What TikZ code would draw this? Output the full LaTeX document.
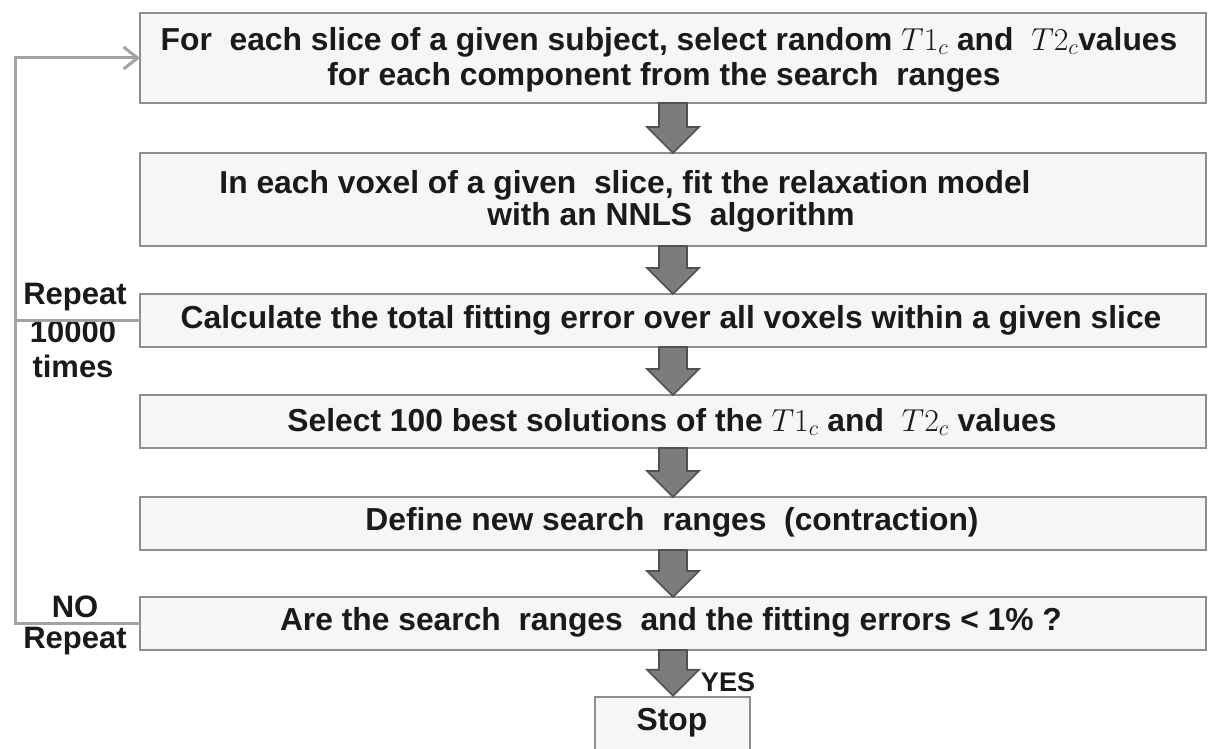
\documentclass[tikz,border=0pt]{standalone}
\usepackage{fix-cm}
\usepackage{fontspec}
\setmainfont{Liberation Sans}
\usetikzlibrary{arrows.meta,calc}
\definecolor{boxline}{HTML}{8E8E8E}
\definecolor{boxfill}{HTML}{F6F6F6}
\definecolor{loopgray}{HTML}{A3A3A3}
\definecolor{arrfill}{HTML}{7C7C7C}
\definecolor{arrline}{HTML}{505050}
\definecolor{txt}{HTML}{1A1A1A}
\tikzset{
  stepbox/.style={draw=boxline, fill=boxfill, line width=2.6pt, minimum width=1066pt, inner sep=0pt, outer sep=0pt},
  txtnode/.style={inner sep=0pt, text=txt, font=\fontsize{31.8}{36}\selectfont\bfseries},
  sidelabel/.style={inner sep=0pt, text=txt, font=\fontsize{31}{36}\selectfont\bfseries},
  loopline/.style={draw=loopgray, line width=3pt},
  blockarr/.style={fill=arrfill, draw=arrline, line width=1.6pt, line join=miter},
}
\newcommand\blockarrow[2]{%
  \path[blockarr] let \p1=(#1.south), \p2=(#2.north) in
    (\x1-14pt,\y1) -- (\x1+14pt,\y1) -- (\x1+14pt,\y2+26pt) -- (\x1+26pt,\y2+26pt)
    -- (\x1,\y2) -- (\x1-26pt,\y2+26pt) -- (\x1-14pt,\y2+26pt) -- cycle;}
\begin{document}
\begin{tikzpicture}[x=1pt,y=-1pt]
\useasboundingbox[fill=white] (0,0) rectangle (1212,749);
% boxes
\node[stepbox, minimum height=90pt] (b1) at (673,58) {};
\node[stepbox, minimum height=93pt] (b2) at (673,199.5) {};
\node[stepbox, minimum height=53pt] (b3) at (673,320.5) {};
\node[stepbox, minimum height=53pt] (b4) at (673,421.5) {};
\node[stepbox, minimum height=53pt] (b5) at (673,523.5) {};
\node[stepbox, minimum height=53pt] (b6) at (673,623.5) {};
\node[draw=boxline, fill=boxfill, line width=2.6pt, minimum width=155pt, minimum height=64pt, inner sep=0pt] (stop) at (672.5,729) {};
% texts
\node[txtnode] (t1a) at (669,42) {For\ \ each slice of a given\ subject, select random $T1_c$ and\ \ $T2_c$values};
\node[txtnode] (t1b) at (664,77) {for each component from the search\ \ ranges};
\node[txtnode] (t2a) at (625,185) {In each voxel of a given\ \ slice, fit the relaxation model};
\node[txtnode] (t2b) at (671,217) {with an NNLS\ \ algorithm};
\node[txtnode] (t3) at (671,320) {Calculate the total fitting error over all voxels within a given slice};
\node[txtnode] (t4) at (672,422) {Select 100 best solutions\ of the $T1_c$ and\ \ $T2_c$ values};
\node[txtnode] (t5) at (672,522) {Define new search\ \ ranges\ \ (contraction)};
\node[txtnode] (t6) at (671,622) {Are the search\ \ ranges\ \ and the fitting errors < 1\% ?};
\node[txtnode] (tstop) at (672,723) {Stop};
\node[sidelabel, font=\fontsize{27}{30}\selectfont\bfseries] (yes) at (728,682) {YES};
\node[sidelabel] (rep1) at (75,297) {Repeat};
\node[sidelabel] (rep2) at (73,332) {10000};
\node[sidelabel] (rep3) at (73,366) {times};
\node[sidelabel] (no) at (75,607) {NO};
\node[sidelabel] (rep4) at (75,641) {Repeat};
% loop
\coordinate (ltop) at (15,58);
\draw[loopline, -{Straight Barb[length=14pt,width=22pt]}] (b6.west) -| (ltop) -- (b1.west);
\draw[loopline] (b3.west) -- (b3.west -| ltop);
% block arrows
\blockarrow{b1}{b2}
\blockarrow{b2}{b3}
\blockarrow{b3}{b4}
\blockarrow{b4}{b5}
\blockarrow{b5}{b6}
\blockarrow{b6}{stop}
\end{tikzpicture}
\end{document}
